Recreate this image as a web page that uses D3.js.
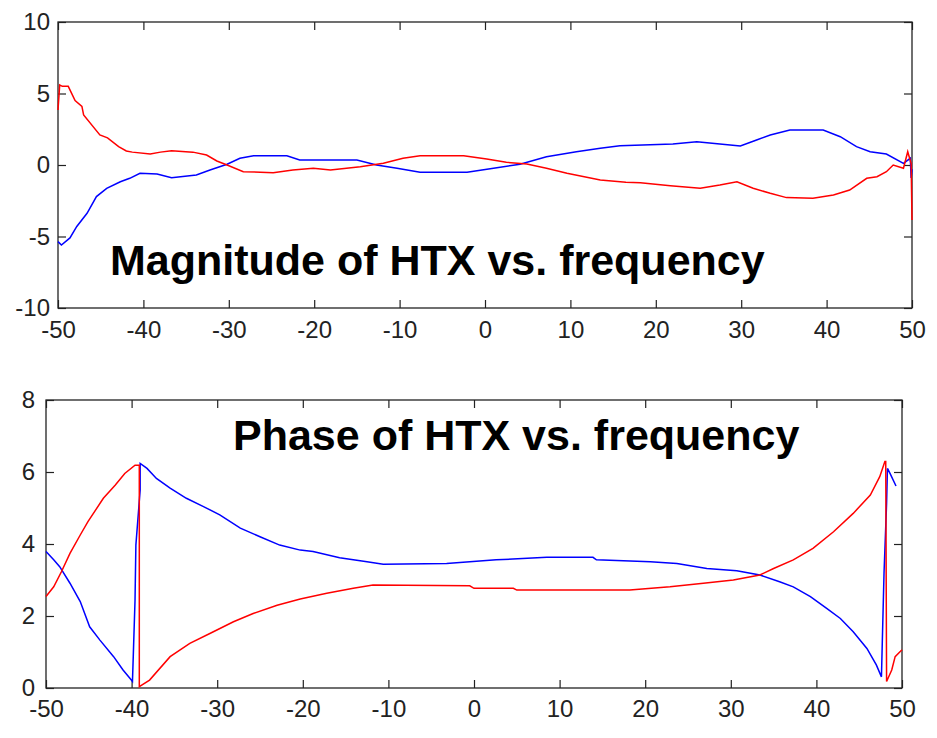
<!DOCTYPE html>
<html>
<head>
<meta charset="utf-8">
<script src="https://cdn.jsdelivr.net/npm/d3@7"></script>
<style>
  body { margin: 0; background: #fff; }
  svg { display: block; }
  .tick text { font-family: "Liberation Sans", Arial, sans-serif; font-size: 24px; fill: #222; }
  .tick line { stroke: #222; stroke-width: 1.2; }
  .title { font-family: "Liberation Sans", Arial, sans-serif; font-weight: bold; font-size: 43px; fill: #000; }
</style>
</head>
<body>
<svg id="chart" width="937" height="738"></svg>
<script>
// tick values
const freqTicks = [-50, -40, -30, -20, -10, 0, 10, 20, 30, 40, 50];
const magTicks = [-10, -5, 0, 5, 10];
const phaseTicks = [0, 2, 4, 6, 8];

// magnitude: [frequency, value]
const magRed = [
  [-50, 3.85], [-49.8, 5.6], [-49.5, 5.5], [-48.8, 5.5], [-48.0, 4.5], [-47.2, 4.1],
  [-47.0, 3.5], [-45.1, 2.1], [-44.2, 1.9], [-42.9, 1.28], [-42, 0.98], [-41.3, 0.9],
  [-39.2, 0.77], [-38.0, 0.9], [-36.7, 1.0], [-34.2, 0.9], [-32.6, 0.7], [-31.4, 0.28],
  [-30.2, 0], [-28.3, -0.47], [-26.3, -0.5], [-24.8, -0.55], [-22.5, -0.35], [-20.1, -0.23],
  [-18.1, -0.35], [-14.6, -0.12], [-11.9, 0.12], [-9.6, 0.47], [-7.6, 0.65], [-2.5, 0.65],
  [0.2, 0.42], [2.5, 0.19], [4.9, 0.07], [7.2, -0.23], [9.6, -0.58], [13.5, -1.05],
  [16.5, -1.2], [18.2, -1.24], [21.7, -1.45], [25.2, -1.63], [27.5, -1.4], [29.5, -1.17],
  [31.4, -1.63], [33.4, -1.98], [35.3, -2.28], [38.4, -2.33], [40.8, -2.1], [42.7, -1.75],
  [44.7, -0.93], [45.9, -0.82], [47.0, -0.47], [47.8, 0], [49.0, -0.23], [49.5, 0.93],
  [49.9, 0.1], [50, -3.85]
];
const magBlue = [
  [-50, -5.36], [-49.6, -5.6], [-48.6, -5.1], [-47.8, -4.3], [-46.6, -3.38], [-45.5, -2.21],
  [-44.3, -1.63], [-42.7, -1.17], [-41.6, -0.93], [-40.4, -0.58], [-38.4, -0.63], [-36.7, -0.89],
  [-33.8, -0.7], [-32.2, -0.35], [-30.2, 0.05], [-28.7, 0.47], [-27.1, 0.65], [-23.2, 0.65],
  [-21.7, 0.35], [-15.0, 0.35], [-12.7, 0], [-10.3, -0.23], [-7.6, -0.51], [-2.1, -0.51],
  [1.0, -0.23], [4.1, 0.05], [7.2, 0.58], [10.7, 0.93], [13.5, 1.17], [15.8, 1.35],
  [22.0, 1.47], [24.8, 1.63], [27.5, 1.47], [29.9, 1.33], [31.8, 1.75], [33.4, 2.1],
  [35.7, 2.45], [39.6, 2.45], [41.6, 1.98], [43.5, 1.28], [45.1, 0.93], [47.0, 0.77],
  [49.0, 0.12], [49.8, 0.47], [49.9, -0.9], [50, -0.3]
];

// phase: [frequency, value]
const phaseRed = [
  [-50, 2.54], [-49.1, 2.81], [-48.2, 3.23], [-47.2, 3.74], [-46.0, 4.25], [-45.1, 4.62],
  [-43.3, 5.27], [-41.9, 5.64], [-40.8, 5.96], [-39.6, 6.19], [-39.1, 6.19], [-39.1, 0.04],
  [-37.9, 0.22], [-35.5, 0.87], [-33.2, 1.24], [-30.8, 1.52], [-28.1, 1.84], [-25.8, 2.07],
  [-23.0, 2.3], [-20.3, 2.47], [-17.2, 2.63], [-14.1, 2.77], [-11.8, 2.86], [-0.5, 2.84],
  [0, 2.77], [4.6, 2.77], [5.0, 2.72], [18.2, 2.72], [22.9, 2.81], [26.8, 2.91],
  [30.3, 3.0], [33.4, 3.14], [35.0, 3.32], [37.3, 3.56], [39.6, 3.88], [42.0, 4.34],
  [44.3, 4.85], [46.3, 5.36], [47.4, 5.87], [48.0, 6.29], [48.1, 6.29], [48.2, 0.18],
  [48.8, 0.5], [49.2, 0.87], [50, 1.06]
];
const phaseBlue = [
  [-50, 3.79], [-49.1, 3.56], [-48.4, 3.37], [-47.2, 2.91], [-46.0, 2.4], [-44.9, 1.7],
  [-43.7, 1.33], [-42.1, 0.87], [-41.0, 0.5], [-40.2, 0.27], [-39.9, 0.18], [-39.8, 0.92],
  [-39.6, 2.44], [-39.5, 3.97], [-39.0, 5.5], [-39.0, 6.24], [-38.2, 6.1], [-37.1, 5.82],
  [-35.5, 5.55], [-33.6, 5.27], [-31.6, 5.04], [-29.7, 4.81], [-27.3, 4.44], [-25.0, 4.2],
  [-22.7, 3.97], [-20.3, 3.83], [-18.8, 3.79], [-15.7, 3.62], [-12.5, 3.51], [-10.6, 3.44],
  [-3.2, 3.46], [2.6, 3.56], [8.5, 3.63], [13.9, 3.63], [14.3, 3.56], [20.6, 3.51],
  [23.7, 3.46], [27.2, 3.32], [30.7, 3.26], [33.4, 3.14], [35.7, 2.95], [37.3, 2.81],
  [39.3, 2.54], [41.2, 2.21], [42.8, 1.93], [44.3, 1.56], [45.9, 1.1], [47.0, 0.64],
  [47.6, 0.31], [47.7, 1.29], [47.9, 3.19], [48.2, 5.13], [48.3, 6.1], [48.6, 5.96],
  [49.3, 5.61]
];

const svg = d3.select("#chart");
const plain = d => String(d); // hyphen, not the unicode minus

drawPanel({
  left: 58, right: 912, top: 22, bottom: 308,
  yDomain: [-10, 10], yTicks: magTicks, xPad: 13, yPad: 8,
  series: [magBlue, magRed],
  title: "Magnitude of HTX vs. frequency", titleX: 110, titleY: 275
});

drawPanel({
  left: 46, right: 902, top: 400, bottom: 688,
  yDomain: [0, 8], yTicks: phaseTicks, xPad: 12, yPad: 11,
  series: [phaseBlue, phaseRed],
  title: "Phase of HTX vs. frequency", titleX: 233, titleY: 450
});

function drawPanel(p) {
  const x = d3.scaleLinear().domain([-50, 50]).range([p.left, p.right]);
  const y = d3.scaleLinear().domain(p.yDomain).range([p.bottom, p.top]);
  const g = svg.append("g");

  g.append("g")
    .attr("transform", `translate(0,${p.bottom})`)
    .call(d3.axisBottom(x).tickValues(freqTicks).tickSize(-8).tickPadding(p.xPad).tickFormat(plain))
    .call(a => a.select(".domain").remove());
  g.append("g")
    .attr("transform", `translate(0,${p.top})`)
    .call(d3.axisTop(x).tickValues(freqTicks).tickSize(-8).tickFormat(""))
    .call(a => a.select(".domain").remove());
  g.append("g")
    .attr("transform", `translate(${p.left},0)`)
    .call(d3.axisLeft(y).tickValues(p.yTicks).tickSize(-8).tickPadding(p.yPad).tickFormat(plain))
    .call(a => a.select(".domain").remove());
  g.append("g")
    .attr("transform", `translate(${p.right},0)`)
    .call(d3.axisRight(y).tickValues(p.yTicks).tickSize(-8).tickFormat(""))
    .call(a => a.select(".domain").remove());

  g.append("rect")
    .attr("x", p.left).attr("y", p.top)
    .attr("width", p.right - p.left).attr("height", p.bottom - p.top)
    .attr("fill", "none").attr("stroke", "#222").attr("stroke-width", 1.3);

  const line = d3.line().x(d => x(d[0])).y(d => y(d[1]));
  const colors = ["#0000ff", "#ff0000"];
  p.series.forEach((s, i) => {
    g.append("path")
      .attr("d", line(s))
      .attr("fill", "none")
      .attr("stroke", colors[i])
      .attr("stroke-width", 1.5);
  });

  g.append("text")
    .attr("class", "title")
    .attr("x", p.titleX).attr("y", p.titleY)
    .text(p.title);
}
</script>
</body>
</html>
